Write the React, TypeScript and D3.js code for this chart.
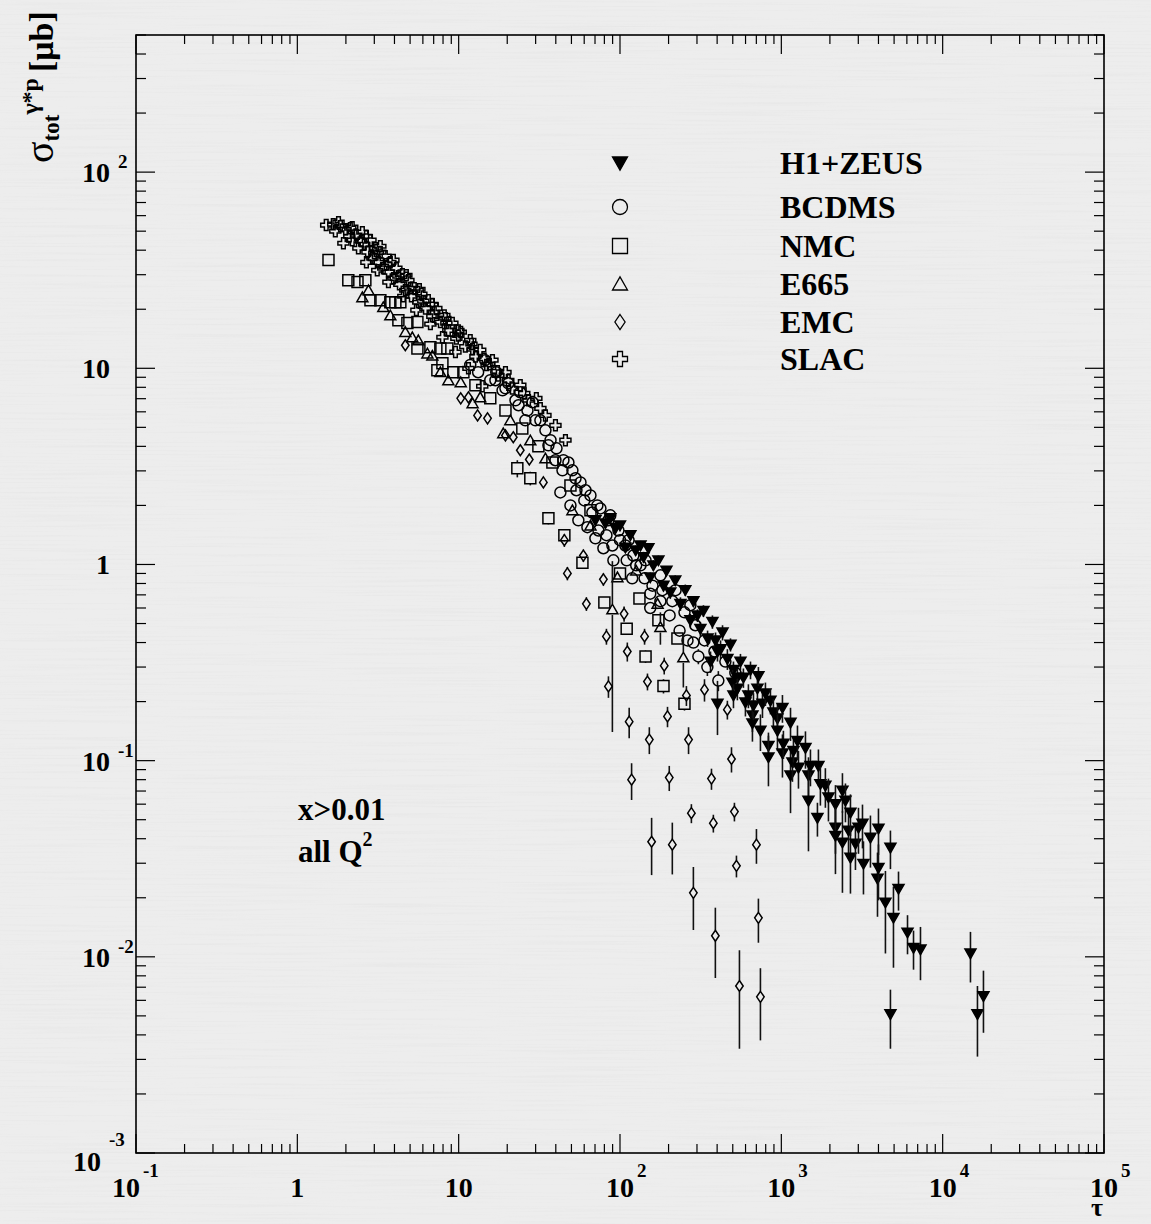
import * as d3 from "d3";
import React from "react";

type Pt = [number, number, number?];

const W = 1151;
const H = 1224;

// [tau, sigma (μb), error]
const H1ZEUS: Pt[] = [
  [70.4, 1.68, 0.08], [81.2, 1.62, 0.08], [93.7, 1.53, 0.08], [108, 1.22, 0.07], [125, 1.18, 0.07],
  [140, 1.09, 0.07], [161, 0.99, 0.06], [154, 0.86, 0.05], [186, 0.78, 0.05], [205, 0.72, 0.05],
  [237, 0.63, 0.05], [273, 0.52, 0.04], [302, 0.55, 0.04], [315, 0.47, 0.04], [349, 0.42, 0.04],
  [391, 0.41, 0.04], [402, 0.36, 0.04], [420, 0.37, 0.04], [463, 0.33, 0.04], [364, 0.32, 0.04],
  [505, 0.29, 0.03], [498, 0.25, 0.04], [534, 0.265, 0.03], [534, 0.233, 0.03], [505, 0.215, 0.03],
  [402, 0.195, 0.06], [582, 0.265, 0.03], [599, 0.198, 0.03], [625, 0.215, 0.03], [662, 0.17, 0.03],
  [662, 0.155, 0.03], [672, 0.191, 0.03], [711, 0.233, 0.03], [742, 0.142, 0.03], [764, 0.195, 0.03],
  [797, 0.22, 0.03], [832, 0.119, 0.02], [832, 0.104, 0.03], [856, 0.202, 0.03], [893, 0.176, 0.03],
  [946, 0.164, 0.03], [946, 0.142, 0.03], [1016, 0.186, 0.03], [1016, 0.109, 0.027], [1030, 0.122, 0.02],
  [1140, 0.156, 0.03], [1140, 0.084, 0.03], [1172, 0.098, 0.02], [1189, 0.112, 0.02], [1259, 0.126, 0.025],
  [1277, 0.092, 0.02], [1411, 0.116, 0.025], [1473, 0.084, 0.02], [1473, 0.0625, 0.028], [1515, 0.094, 0.02],
  [1674, 0.051, 0.01], [1698, 0.094, 0.02], [1746, 0.076, 0.017], [1875, 0.0745, 0.017], [1959, 0.065, 0.016],
  [2165, 0.06, 0.015], [2165, 0.0455, 0.012], [2165, 0.0414, 0.015], [2392, 0.0703, 0.016], [2392, 0.0382, 0.017],
  [2497, 0.0625, 0.014], [2609, 0.044, 0.012], [2682, 0.0543, 0.013], [2682, 0.032, 0.011], [2880, 0.0377, 0.01],
  [3007, 0.0455, 0.012], [3184, 0.0477, 0.012], [3229, 0.0298, 0.009], [3567, 0.0405, 0.012], [3945, 0.025, 0.009],
  [4000, 0.045, 0.012], [4000, 0.0284, 0.009], [4418, 0.0189, 0.0085], [4745, 0.036, 0.008], [4955, 0.0158, 0.007],
  [5325, 0.0222, 0.005], [6055, 0.0133, 0.003], [6597, 0.0111, 0.0025], [7286, 0.0109, 0.0033], [14870, 0.0104, 0.003],
  [16430, 0.0051, 0.002], [17900, 0.0063, 0.0022], [4745, 0.0051, 0.0017],
  [87.1, 1.72, 0.08], [100, 1.58, 0.08], [116, 1.41, 0.07], [134, 1.25, 0.07], [150, 1.21, 0.06],
  [173, 1.05, 0.06], [194, 0.93, 0.05], [220, 0.83, 0.05], [254, 0.74, 0.05], [285, 0.65, 0.04],
  [329, 0.58, 0.04], [374, 0.51, 0.04], [432, 0.45, 0.04], [484, 0.39, 0.03], [558, 0.32, 0.03],
  [644, 0.29, 0.03], [721, 0.27, 0.03],
];

const BCDMS: Pt[] = [
  [11.8, 10.4], [13.2, 9.55], [14.6, 11], [15.7, 8.7], [17.1, 9.55], [18.7, 7.72], [20.3, 8.38],
  [22.5, 6.87], [24.1, 7.55], [26.7, 6.1], [28.7, 6.71], [32.1, 5.43], [34.5, 4.83], [37.1, 4.3],
  [40.4, 3.91], [42.7, 2.33], [44.6, 3.4], [49.3, 2.0], [50.7, 3.02], [53, 2.75], [55.2, 1.68],
  [56.9, 2.62], [61.1, 2.39], [62.8, 1.55], [65.6, 2.25], [70.4, 1.36], [72.4, 2.0], [75.6, 1.93],
  [78.9, 1.21], [84.8, 1.68], [87.1, 1.78], [91, 1.05], [97.8, 1.49], [108, 1.25], [113, 1.33],
  [119, 0.85], [121, 1.11], [134, 0.99], [144, 1.05], [154, 0.71], [154, 0.6, 0.04], [178, 0.65],
  [178, 0.88], [203, 0.55], [221, 0.74], [234, 0.46], [262, 0.41], [273, 0.62], [285, 0.4],
  [306, 0.34, 0.03], [348, 0.3, 0.03], [407, 0.256, 0.03],
  [16.9, 8.69], [19.5, 7.91], [23.5, 6.48], [25.9, 5.43], [29.9, 5.43], [36, 4.05], [39.8, 3.4],
  [44, 3.02], [47.9, 3.31], [53.7, 2.39], [60.1, 2.12], [67.4, 1.84], [73.5, 1.49], [82.4, 1.41],
  [89.7, 1.25], [100, 1.33], [110, 1.05], [126, 0.99], [142, 0.85], [159, 0.78], [183, 0.74],
  [211, 0.65], [251, 0.57], [293, 0.49], [334, 0.41], [385, 0.36], [450, 0.32], [519, 0.28],
];

const NMC: Pt[] = [
  [1.56, 35.6], [2.07, 28.1], [2.36, 27.5], [2.64, 28.1], [2.84, 22.2], [3.27, 22.2], [3.77, 21.7],
  [4.05, 21.7], [4.35, 21.7], [4.23, 17.6], [4.81, 17], [5.55, 17.2], [5.55, 12.6], [6.68, 12.8],
  [7.7, 12.6], [8.51, 12.6], [7.93, 10.6], [8.89, 15.6], [7.38, 9.77], [9.27, 9.55], [10.7, 9.55],
  [12.7, 8.19], [15.7, 7.03], [19.5, 6.1], [24.8, 4.94], [31.2, 4.0], [38.1, 3.31], [49.3, 2.53],
  [65.6, 1.89], [23.1, 3.09, 0.31], [27.8, 2.75, 0.22], [36, 1.72, 0.12], [45.2, 1.41, 0.1],
  [58.5, 1.02, 0.05], [80, 0.64, 0.04], [110, 0.47, 0.03], [144, 0.34, 0.025], [186, 0.24, 0.02],
  [251, 0.195, 0.015], [132, 0.67, 0.03], [173, 0.52, 0.03], [227, 0.42, 0.025], [100, 0.9, 0.04],
];

const E665: Pt[] = [
  [2.76, 25], [2.53, 23], [3.41, 20.5], [3.77, 18.6], [4.67, 15.3], [5.16, 14.4], [5.62, 13.9],
  [6.4, 11.9], [6.87, 11.6], [7.7, 9.55], [8.63, 8.69], [10.3, 8.49], [12.2, 6.63], [13.6, 7.11],
  [18.9, 4.66], [20.9, 5.43], [27.8, 4.29], [34.5, 3.47], [50.7, 1.89], [65.6, 1.58],
  [96.4, 0.86, 0.05], [89.7, 0.59, 0.45], [126, 0.93], [171, 0.63, 0.04], [178, 0.48, 0.09],
  [247, 0.336, 0.1],
];

const EMC: Pt[] = [
  [4.67, 13.1], [10.3, 7.03], [11.5, 7.11], [13.1, 5.75], [15.1, 5.56], [19.5, 4.55], [21.8, 4.45],
  [24.1, 3.82], [27.4, 3.43], [33.5, 2.62], [45.2, 1.33, 0.1], [59.3, 1.11, 0.08], [47.2, 0.9, 0.07],
  [78.9, 0.84, 0.06], [61.9, 0.63, 0.05], [106, 0.56, 0.05], [142, 0.43, 0.04], [82.4, 0.43, 0.04],
  [111, 0.36, 0.04], [188, 0.305, 0.03], [148, 0.253, 0.025], [84.8, 0.239, 0.03], [334, 0.23, 0.03],
  [258, 0.215, 0.025], [463, 0.182, 0.02], [197, 0.168, 0.02], [114, 0.158, 0.028], [152, 0.128, 0.02],
  [266, 0.128, 0.02], [491, 0.102, 0.015], [118, 0.08, 0.017], [202, 0.082, 0.012], [369, 0.081, 0.01],
  [277, 0.054, 0.006], [512, 0.055, 0.006], [379, 0.048, 0.005], [157, 0.0386, 0.0125],
  [211, 0.0373, 0.011], [701, 0.0373, 0.0075], [527, 0.0291, 0.0037], [285, 0.0212, 0.0075],
  [721, 0.0158, 0.004], [390, 0.0128, 0.005], [550, 0.0071, 0.0037], [742, 0.00625, 0.0025],
];

const SLAC: Pt[] = [
  [1.51, 53.7], [1.67, 54.3], [1.85, 53], [1.99, 51.2], [2.13, 51.8], [2.19, 45], [2.32, 47.7],
  [2.39, 40.9], [2.53, 49.4], [2.6, 42.9], [2.72, 39.1], [2.84, 45], [2.92, 36.4], [3.05, 40.9],
  [3.18, 34.7], [3.27, 39.1], [3.41, 32.4], [3.51, 37.3], [3.67, 30.9], [3.77, 34.7], [3.94, 28.8],
  [4.11, 32.4], [4.29, 26.8], [4.48, 30.2], [4.67, 25], [4.88, 28.1], [5.09, 23.3], [5.31, 25.6],
  [5.62, 21.7], [5.87, 23.9], [6.22, 20.2], [6.49, 22.2], [6.87, 18.4], [7.27, 20.2], [7.7, 17.2],
  [8.15, 18.6], [8.63, 15.6], [9.14, 17], [9.68, 14.2], [10.3, 15.3], [11, 12.9], [11.8, 13.9],
  [12.7, 11.5], [13.6, 12.4], [14.9, 10.4], [16.2, 11], [17.6, 9.2], [19.5, 9.55], [21.5, 7.9],
  [24.1, 8.2], [27.1, 6.87], [30.3, 7.03], [34.5, 5.75], [39.8, 5.12], [45.9, 4.3],
  [2.1, 47.1], [2.49, 44.5], [3.0, 38.6], [3.56, 33.9], [4.23, 29.5], [5.02, 25.6], [6.04, 22],
  [7.06, 19.3], [8.39, 17], [9.96, 14.7], [12.2, 12.5], [15.5, 10.5], [20.3, 8.69], [25.5, 7.45],
  [32.1, 6.25],
  [1.72, 50], [1.93, 43.4], [2.68, 34.7], [3.13, 31.6], [3.67, 27.5], [4.54, 23.3], [5.47, 19.8],
  [6.68, 16.8], [7.93, 14.4], [9.55, 12.1], [11.5, 10], [14, 8.1],
  [1.8, 55.6], [2.19, 52.4], [2.68, 47.1], [3.27, 41.9], [3.94, 35.6], [4.74, 29.8], [5.71, 25.3],
  [6.87, 21.2], [8.27, 18], [9.96, 15.6], [12, 13.3], [14.4, 11.2], [17.4, 9.65],
];

const SERIES_NAMES = ["H1+ZEUS", "BCDMS", "NMC", "E665", "EMC", "SLAC"];
const SERIES_KINDS = ["triDown", "circle", "square", "triUp", "diamond", "cross"];
const SERIES_DATA = [H1ZEUS, BCDMS, NMC, E665, EMC, SLAC];

// value, base, exponent
const X_TICK_LABELS: [number, string, string][] = [
  [0.1, "10", "-1"], [1, "1", ""], [10, "10", ""], [100, "10", "2"],
  [1000, "10", "3"], [10000, "10", "4"], [100000, "10", "5"],
];
const Y_TICK_LABELS: [number, string, string][] = [
  [0.001, "10", "-3"], [0.01, "10", "-2"], [0.1, "10", "-1"], [1, "1", ""],
  [10, "10", ""], [100, "10", "2"],
];

const FONT = "'Liberation Serif', 'Times New Roman', serif";

const left = 136, right = 1104, top = 35, bottom = 1153;

function markerPath(kind: string, s: number): string {
  const h = s / 2;
  switch (kind) {
    case "triDown":
      return `M${-h},${-h * 0.8}L${h},${-h * 0.8}L0,${h * 0.95}Z`;
    case "triUp":
      return `M${-h},${h * 0.8}L${h},${h * 0.8}L0,${-h * 0.95}Z`;
    case "square":
      return `M${-h},${-h}H${h}V${h}H${-h}Z`;
    case "circle":
      return `M${h},0A${h},${h} 0 1,1 ${-h},0A${h},${h} 0 1,1 ${h},0Z`;
    case "diamond": {
      const w = h * 0.68;
      return `M0,${-h}L${w},0L0,${h}L${-w},0Z`;
    }
    default: {
      const t = h / 3;
      return `M${-t},${-h}H${t}V${-t}H${h}V${t}H${t}V${h}H${-t}V${t}H${-h}V${-t}H${-t}Z`;
    }
  }
}

export default function App() {
  const x = d3.scaleLog().domain([0.1, 1e5]).range([left, right]);
  const y = d3.scaleLog().domain([1e-3, 500]).range([bottom, top]);

  const isMajor = (v: number) => Math.abs(Math.log10(v) - Math.round(Math.log10(v))) < 1e-6;
  const xt = x.ticks();
  const yt = y.ticks();

  const plotSize = 11;

  return (
    <svg width={W} height={H} style={{ position: "absolute", left: 0, top: 0 }} fontFamily={FONT}>
      <defs>
        <filter id="paper" x="0" y="0" width="100%" height="100%">
          <feTurbulence type="fractalNoise" baseFrequency="0.006 0.5" numOctaves={3} seed={7} />
          <feColorMatrix type="matrix" values="0 0 0 0 0.6  0 0 0 0 0.6  0 0 0 0 0.6  2.4 0 0 0 -1.15" />
        </filter>
        <clipPath id="plot">
          <rect x={left} y={top} width={right - left} height={bottom - top} />
        </clipPath>
      </defs>
      <rect width={W} height={H} fill="#ededed" />
      <rect width={W} height={H} filter="url(#paper)" opacity={0.16} />

      {/* data */}
      <g clipPath="url(#plot)">
        {SERIES_DATA.map((data, si) => {
          const kind = SERIES_KINDS[si];
          const filled = kind === "triDown";
          const gap = filled ? 0 : plotSize / 2;
          return (
            <g key={si}>
              {data.map((d, i) => {
                const cx = x(d[0]);
                const cy = y(d[1]);
                const e = d[2] || 0;
                const segs: [number, number][] = [];
                if (e > 0) {
                  const yHi = y(d[1] + e);
                  const yLo = d[1] - e > 1e-4 ? y(d[1] - e) : bottom + 20;
                  if (yHi < cy - gap) segs.push([yHi, cy - gap]);
                  if (yLo > cy + gap) segs.push([cy + gap, yLo]);
                }
                return (
                  <g key={i}>
                    {segs.map((s, k) => (
                      <line key={k} x1={cx} x2={cx} y1={s[0]} y2={s[1]} stroke="#111" strokeWidth={1.6} />
                    ))}
                    <path
                      transform={`translate(${cx},${cy})`}
                      d={markerPath(kind, kind === "diamond" ? 11 : kind === "triDown" ? 11 : plotSize)}
                      fill={filled ? "#000" : "none"}
                      stroke="#000"
                      strokeWidth={1.5}
                    />
                  </g>
                );
              })}
            </g>
          );
        })}
      </g>

      {/* frame */}
      <rect x={left} y={top} width={right - left} height={bottom - top} fill="none" stroke="#000" strokeWidth={1.6} />

      {/* x ticks */}
      {xt.map((v, i) => {
        const len = isMajor(v) ? 19 : 9;
        const px = x(v);
        return (
          <g key={"xt" + i} stroke="#000" strokeWidth={1.2}>
            <line x1={px} x2={px} y1={bottom} y2={bottom - len} />
            <line x1={px} x2={px} y1={top} y2={top + len} />
          </g>
        );
      })}
      {/* y ticks */}
      {yt.map((v, i) => {
        const len = isMajor(v) ? 19 : 10;
        const py = y(v);
        return (
          <g key={"yt" + i} stroke="#000" strokeWidth={1.2}>
            <line x1={left} x2={left + len} y1={py} y2={py} />
            <line x1={right} x2={right - len} y1={py} y2={py} />
          </g>
        );
      })}

      {/* x labels */}
      {X_TICK_LABELS.map(([v, b, e], i) => {
        const px = x(v) + (e.startsWith("-") ? -10 : 0);
        return (
          <g key={"xl" + i} fontWeight="bold">
            <text x={px} y={1197} fontSize={28} textAnchor="middle">{b}</text>
            {e && (
              <text x={px + (b.length === 2 ? 17 : 9)} y={1177} fontSize={19}>{e}</text>
            )}
          </g>
        );
      })}
      <text x={1097} y={1216} fontSize={26} fontWeight="bold" textAnchor="middle">τ</text>

      {/* y labels */}
      {Y_TICK_LABELS.map(([v, b, e], i) => {
        const py = y(v);
        const low = v === 0.001;
        const ex = low ? 101 : 110;
        return (
          <g key={"yl" + i} fontWeight="bold">
            <text x={ex} y={py + (low ? 18 : 10)} fontSize={28} textAnchor="end">{b}</text>
            {e && (
              <text x={ex + 8} y={py + (low ? -7 : -4)} fontSize={19}>{e}</text>
            )}
          </g>
        );
      })}

      {/* y title */}
      <text transform="translate(53,163) rotate(-90)" fontSize={34} fontWeight="bold">
        <tspan fontSize={40} fontWeight="normal">σ</tspan>
        <tspan fontSize={23} dy={6}>tot</tspan>
        <tspan fontSize={24} dy={-21}>γ*p</tspan>
        <tspan dy={15} dx={6}>[μb]</tspan>
      </text>

      {/* legend */}
      {SERIES_NAMES.map((name, i) => {
        const cy = [163, 207, 246, 284, 322, 359][i];
        const kind = SERIES_KINDS[i];
        return (
          <g key={"lg" + i}>
            <path
              transform={`translate(620,${cy})`}
              d={markerPath(kind, 15)}
              fill={kind === "triDown" ? "#000" : "none"}
              stroke="#000"
              strokeWidth={1.3}
            />
            <text x={780} y={cy + 11} fontSize={32} fontWeight="bold">{name}</text>
          </g>
        );
      })}

      {/* annotations */}
      <text x={298} y={820} fontSize={31} fontWeight="bold">x&gt;0.01</text>
      <text x={298} y={862} fontSize={31} fontWeight="bold">
        all Q<tspan fontSize={20} dy={-16}>2</tspan>
      </text>
    </svg>
  );
}
